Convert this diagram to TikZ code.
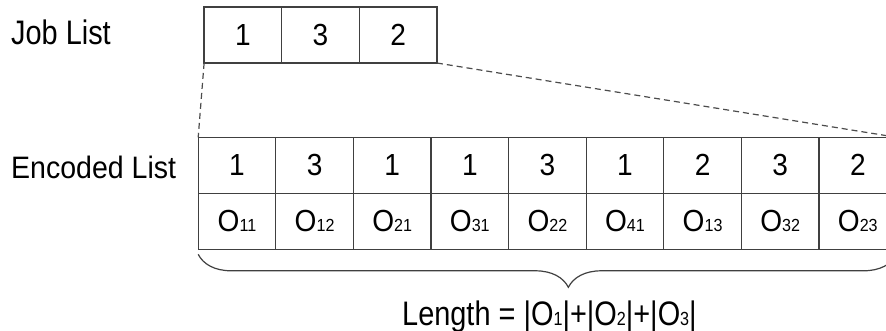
\documentclass[tikz,border=0pt]{standalone}
\usepackage{fontspec}
\setmainfont[FakeStretch=0.92]{Liberation Sans}
\newfontfamily\narrowfont[FakeStretch=0.85]{Liberation Sans}
\usetikzlibrary{positioning,decorations.pathreplacing}
\newcommand{\osub}[1]{{\fontsize{17.5}{17.5}\selectfont#1}}
\newcommand{\lsub}[1]{{\fontsize{19}{19}\selectfont#1}}
\begin{document}
\begin{tikzpicture}[x=1pt,y=-1pt,cell/.style={draw=black!75,line width=1.3pt,minimum width=77.6pt,minimum height=56pt,inner sep=0pt,outer sep=0pt,font=\fontsize{30.5}{36}\selectfont},listname/.style={anchor=base west,inner sep=0pt,font=\fontsize{31}{36}\selectfont},dashline/.style={draw=black!70,line width=1.2pt,dash pattern=on 6pt off 4pt}]
	\path[use as bounding box,clip] (0,0) rectangle (886,331);
	% job list
	\node[listname,font=\narrowfont\fontsize{34}{40}\selectfont] (jobname) at (11,45) {Job List};
	\node[cell] (j1) at (242.9,35) {1};
	\node[cell,right=0pt of j1] (j2) {3};
	\node[cell,right=0pt of j2] (j3) {2};
	% encoded list
	\node[listname] (encname) at (11,178.5) {Encoded List};
	\node[cell] (e1) at (237,165.3) {1};
	\node[cell,right=0pt of e1] (e2) {3};
	\node[cell,right=0pt of e2] (e3) {1};
	\node[cell,right=0pt of e3] (e4) {1};
	\node[cell,right=0pt of e4] (e5) {3};
	\node[cell,right=0pt of e5] (e6) {1};
	\node[cell,right=0pt of e6] (e7) {2};
	\node[cell,right=0pt of e7] (e8) {3};
	\node[cell,right=0pt of e8] (e9) {2};
	\node[cell,below=0pt of e1] (o1) {O\osub{11}};
	\node[cell,below=0pt of e2] (o2) {O\osub{12}};
	\node[cell,below=0pt of e3] (o3) {O\osub{21}};
	\node[cell,below=0pt of e4] (o4) {O\osub{31}};
	\node[cell,below=0pt of e5] (o5) {O\osub{22}};
	\node[cell,below=0pt of e6] (o6) {O\osub{41}};
	\node[cell,below=0pt of e7] (o7) {O\osub{13}};
	\node[cell,below=0pt of e8] (o8) {O\osub{32}};
	\node[cell,below=0pt of e9] (o9) {O\osub{23}};
	\draw[dashline] (j1.south west) -- (e1.north west);
	\draw[dashline] (j3.south east) -- (e9.north east);
	% brace
	\draw[black!75,line width=1.2pt,decorate,decoration={brace,mirror,amplitude=33pt,aspect=0.53}] ([yshift=-5pt]o1.south west) -- ([yshift=-5pt]o9.south east);
	\node[anchor=base west,inner sep=0pt,font=\narrowfont\fontsize{34}{40}\selectfont] (len) at (402,325) {Length = |O\lsub{1}|+|O\lsub{2}|+|O\lsub{3}|};
\end{tikzpicture}
\end{document}
